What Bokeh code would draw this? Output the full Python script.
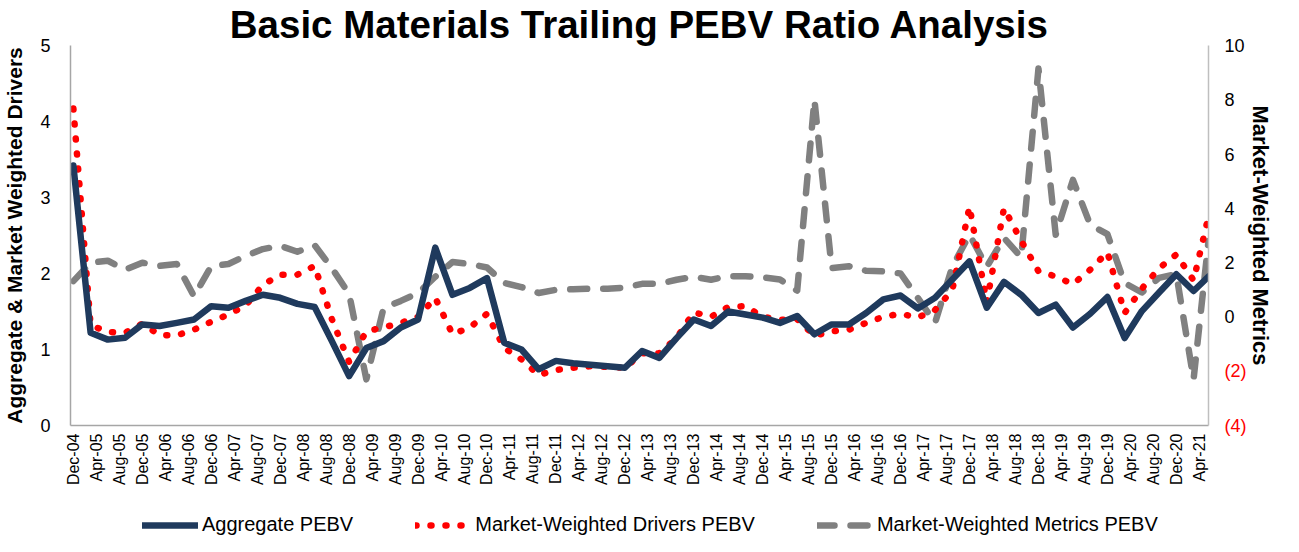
import math
from bokeh.plotting import figure
from bokeh.layouts import column
from bokeh.models import Range1d, LinearAxis, Legend, LegendItem, FixedTicker
from bokeh.embed import file_html
from bokeh.resources import INLINE

# ---- data -------------------------------------------------------------
# months after Dec-2004 (quarterly observations, last one in May-2021)
months = [0, 3, 6, 9, 12, 15, 18, 21, 24, 27, 30, 33, 36, 39, 42, 45, 48, 51, 54, 57,
          60, 63, 66, 69, 72, 75, 78, 81, 84, 87, 90, 93, 96, 99, 102, 105, 108, 111, 114, 117,
          120, 123, 126, 129, 132, 135, 138, 141, 144, 147, 150, 153, 156, 159, 162, 165, 168,
          171, 174, 177, 180, 183, 186, 189, 192, 195, 197.6]

aggregate_pebv = [3.42, 1.22, 1.13, 1.155, 1.33, 1.31, 1.35, 1.395, 1.57, 1.55,
                  1.64, 1.72, 1.68, 1.60, 1.56, 1.11, 0.65, 1.02, 1.11, 1.29,
                  1.395, 2.34, 1.72, 1.81, 1.94, 1.09, 1.00, 0.74, 0.85, 0.82,
                  0.80, 0.78, 0.76, 0.98, 0.89, 1.15, 1.395, 1.31, 1.50, 1.46,
                  1.42, 1.35, 1.44, 1.20, 1.33, 1.33, 1.48, 1.66, 1.71, 1.54,
                  1.68, 1.92, 2.16, 1.55, 1.89, 1.72, 1.48, 1.59, 1.29, 1.47,
                  1.69, 1.15, 1.505, 1.75, 1.99, 1.77, 1.96]

drivers_pebv = [4.17, 1.32, 1.23, 1.22, 1.34, 1.19, 1.185, 1.26, 1.365, 1.46,
                1.58, 1.85, 1.985, 1.985, 2.10, 1.40, 0.835, 1.24, 1.29, 1.35,
                1.43, 1.68, 1.20, 1.29, 1.47, 1.02, 0.87, 0.665, 0.73, 0.76,
                0.78, 0.77, 0.76, 0.95, 0.95, 1.15, 1.49, 1.43, 1.56, 1.57,
                1.43, 1.39, 1.40, 1.18, 1.24, 1.26, 1.35, 1.43, 1.47, 1.42,
                1.52, 1.78, 2.88, 1.62, 2.86, 2.43, 2.03, 1.96, 1.86, 2.05,
                2.28, 1.48, 1.80, 2.07, 2.25, 1.91, 2.75]

metrics_pebv = [1.32, 2.00, 2.07, 1.74, 2.00, 1.88, 1.95, 0.76, 1.87, 1.95,
                2.25, 2.50, 2.62, 2.40, 2.64, 1.80, 0.85, -2.30, 0.33, 0.59,
                0.88, 1.48, 2.02, 1.95, 1.82, 1.25, 1.10, 0.88, 1.00, 1.02,
                1.04, 1.04, 1.08, 1.22, 1.22, 1.37, 1.48, 1.37, 1.50, 1.50,
                1.46, 1.38, 0.97, 8.00, 1.80, 1.87, 1.70, 1.68, 1.60, 0.70,
                -0.22, 1.85, 3.03, 1.85, 2.91, 2.20, 9.15, 3.03, 5.05, 3.40,
                3.05, 1.25, 0.90, 1.44, 1.58, -2.30, 2.80]

x_tick_labels = ["Dec-04", "Apr-05", "Aug-05", "Dec-05", "Apr-06", "Aug-06", "Dec-06",
                 "Apr-07", "Aug-07", "Dec-07", "Apr-08", "Aug-08", "Dec-08", "Apr-09",
                 "Aug-09", "Dec-09", "Apr-10", "Aug-10", "Dec-10", "Apr-11", "Aug-11",
                 "Dec-11", "Apr-12", "Aug-12", "Dec-12", "Apr-13", "Aug-13", "Dec-13",
                 "Apr-14", "Aug-14", "Dec-14", "Apr-15", "Aug-15", "Dec-15", "Apr-16",
                 "Aug-16", "Dec-16", "Apr-17", "Aug-17", "Dec-17", "Apr-18", "Aug-18",
                 "Dec-18", "Apr-19", "Aug-19", "Dec-19", "Apr-20", "Aug-20", "Dec-20",
                 "Apr-21"]
x_tick_months = [4 * i for i in range(len(x_tick_labels))]

left_ticks = [0, 1, 2, 3, 4, 5]
right_ticks_pos = [0, 2, 4, 6, 8, 10]
right_ticks_neg = [-4, -2]
right_neg_labels = ["(4)", "(2)"]

series_names = ["Aggregate PEBV", "Market-Weighted Drivers PEBV", "Market-Weighted Metrics PEBV"]

# ---- styling ----------------------------------------------------------
FONT = "Liberation Sans"
BLUE = "#1F3A5D"
RED = "#FF0000"
GRAY = "#808080"
AXIS = "#A6A6A6"
STYLE_AGG = dict(line_color=BLUE, line_width=6.5, line_cap="round", line_join="round")
STYLE_DRV = dict(line_color=RED, line_width=6.5, line_dash="1 14", line_cap="round",
                 line_join="round")
STYLE_MET = dict(line_color=GRAY, line_width=6.5, line_dash="17 16", line_cap="round",
                 line_join="round")

p = figure(width=1283, height=505, output_backend="svg", toolbar_location=None,
           x_range=Range1d(-0.5, 197.6), y_range=Range1d(0, 5),
           min_border_left=65, min_border_right=75, min_border_top=39,
           min_border_bottom=80)
p.extra_y_ranges = {"right": Range1d(-4, 10)}

p.title.text = "Basic Materials Trailing PEBV Ratio Analysis"
p.title.text_font = FONT
p.title.text_font_size = "38.5px"
p.title.text_font_style = "bold"
p.title.text_color = "black"
p.title.align = "center"
p.title.standoff = 0
p.title.offset = 5

p.outline_line_color = None
p.xgrid.visible = False
p.ygrid.visible = False
p.background_fill_color = "white"
p.border_fill_color = "white"

# x axis
xa = p.xaxis[0]
xa.ticker = FixedTicker(ticks=x_tick_months)
xa.major_label_overrides = {m: lab for m, lab in zip(x_tick_months, x_tick_labels)}
xa.major_label_orientation = math.pi / 2
xa.major_label_text_font = FONT
xa.major_label_text_font_size = "16px"
xa.major_label_text_color = "black"
xa.major_label_standoff = 8
xa.axis_line_color = AXIS
xa.axis_line_width = 1.5
xa.major_tick_line_color = None
xa.minor_tick_line_color = None
xa.major_tick_out = 0
xa.minor_tick_out = 0

# left axis
ya = p.yaxis[0]
ya.ticker = FixedTicker(ticks=left_ticks)
ya.major_label_text_font = FONT
ya.major_label_text_font_size = "18px"
ya.major_label_text_color = "black"
ya.major_label_standoff = 20
ya.axis_line_color = AXIS
ya.axis_line_width = 1.5
ya.major_tick_line_color = None
ya.minor_tick_line_color = None
ya.major_tick_out = 0
ya.minor_tick_out = 0
ya.axis_label = "Aggregate & Market Weighted Drivers"
ya.axis_label_text_font = FONT
ya.axis_label_text_font_size = "21px"
ya.axis_label_text_font_style = "bold"
ya.axis_label_text_color = "black"
ya.axis_label_standoff = 11

# right axis: negative labels (red) next to the frame, positive labels (black) overlaid
ra_neg = LinearAxis(y_range_name="right", ticker=FixedTicker(ticks=right_ticks_neg))
ra_neg.major_label_overrides = {v: lab for v, lab in zip(right_ticks_neg, right_neg_labels)}
ra_neg.major_label_text_font = FONT
ra_neg.major_label_text_font_size = "18px"
ra_neg.major_label_text_color = RED
ra_neg.major_label_standoff = 16
ra_neg.axis_line_color = "#BFBFBF"
ra_neg.axis_line_width = 1.5
ra_neg.major_tick_line_color = None
ra_neg.minor_tick_line_color = None
ra_neg.major_tick_out = 0
ra_neg.minor_tick_out = 0
p.add_layout(ra_neg, "right")

ra = LinearAxis(y_range_name="right", ticker=FixedTicker(ticks=right_ticks_pos))
ra.major_label_text_font = FONT
ra.major_label_text_font_size = "18px"
ra.major_label_text_color = "black"
ra.major_label_standoff = -25
ra.axis_line_color = None
ra.major_tick_line_color = None
ra.minor_tick_line_color = None
ra.major_tick_out = 0
ra.minor_tick_out = 0
ra.axis_label = "Market-Weighted Metrics"
ra.axis_label_text_font = FONT
ra.axis_label_text_font_size = "22px"
ra.axis_label_text_font_style = "bold"
ra.axis_label_text_color = "black"
ra.axis_label_standoff = 0
p.add_layout(ra, "right")

# series
p.line(months, metrics_pebv, y_range_name="right", **STYLE_MET)
p.line(months, drivers_pebv, **STYLE_DRV)
p.line(months, aggregate_pebv, **STYLE_AGG)

# legend strip below the chart (key glyphs only, nothing plotted)
nan2 = [float("nan"), float("nan")]
pl = figure(width=1283, height=31, output_backend="svg", toolbar_location=None,
            x_axis_type=None, y_axis_type=None, x_range=Range1d(0, 1), y_range=Range1d(0, 1),
            min_border=0)
pl.outline_line_color = None
pl.background_fill_color = "white"
pl.border_fill_color = "white"
g_agg = pl.line(nan2, nan2, **STYLE_AGG)
g_drv = pl.line(nan2, nan2, **STYLE_DRV)
g_met = pl.line(nan2, nan2, **STYLE_MET)
legend = Legend(items=[LegendItem(label=series_names[0], renderers=[g_agg]),
                       LegendItem(label=series_names[1], renderers=[g_drv]),
                       LegendItem(label=series_names[2], renderers=[g_met])],
                orientation="horizontal", location=(72, 0))
legend.margin = 0
legend.padding = 0
legend.spacing = 62
legend.glyph_width = 56
legend.glyph_height = 20
legend.label_standoff = 4
legend.label_text_font = FONT
legend.label_text_font_size = "20px"
legend.label_text_color = "black"
legend.border_line_color = None
legend.background_fill_alpha = 0
pl.add_layout(legend, "center")

layout = column(p, pl, spacing=0)
open("out.html", "w").write(file_html(layout, INLINE))
